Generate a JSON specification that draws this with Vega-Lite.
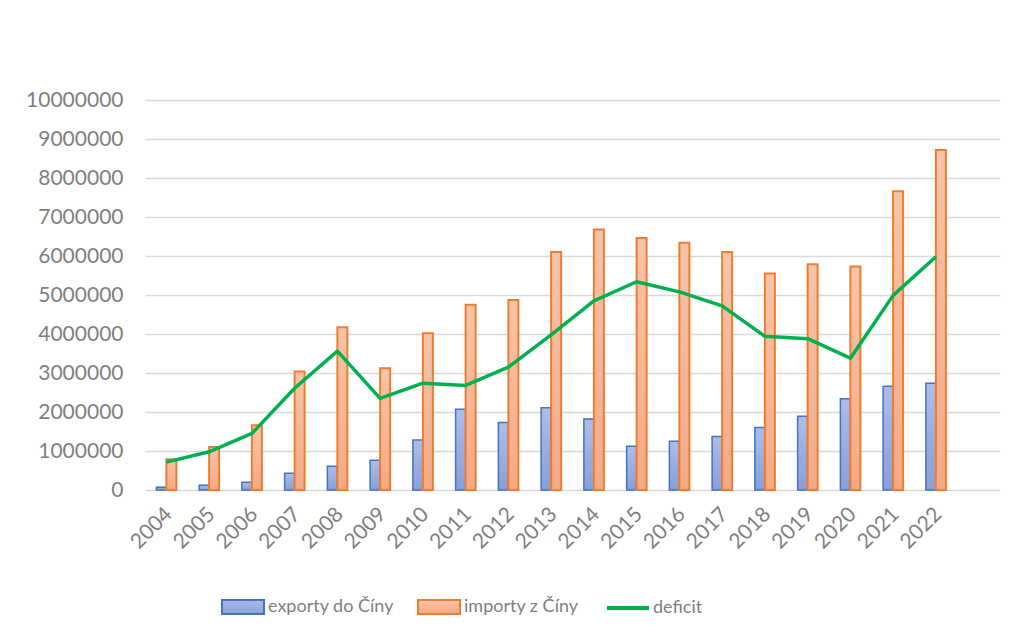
{
  "$schema": "https://vega.github.io/schema/vega-lite/v6.json",
  "width": 855,
  "height": 390,
  "autosize": {"type": "none"},
  "padding": {"left": 145, "top": 100, "right": 16, "bottom": 154},
  "background": "white",
  "config": {
    "font": "Lato",
    "view": {"stroke": null},
    "axis": {"labelFont": "Lato", "labelColor": "#7F7F7F", "labelFontSize": 21, "domain": false, "ticks": false, "title": null, "labelOverlap": false},
    "axisY": {"values": [0,1000000,2000000,3000000,4000000,5000000,6000000,7000000,8000000,9000000,10000000], "format": "d", "labelPadding": 22, "gridColor": "#D9D9D9", "gridWidth": 1.5}
  },
  "data": {
    "values": [
      {"rok": "2004", "export": 70000, "import": 790000, "deficit": 715000},
      {"rok": "2005", "export": 120000, "import": 1100000, "deficit": 980000},
      {"rok": "2006", "export": 200000, "import": 1660000, "deficit": 1450000},
      {"rok": "2007", "export": 430000, "import": 3040000, "deficit": 2610000},
      {"rok": "2008", "export": 610000, "import": 4170000, "deficit": 3560000},
      {"rok": "2009", "export": 760000, "import": 3120000, "deficit": 2350000},
      {"rok": "2010", "export": 1280000, "import": 4020000, "deficit": 2740000},
      {"rok": "2011", "export": 2070000, "import": 4750000, "deficit": 2680000},
      {"rok": "2012", "export": 1730000, "import": 4870000, "deficit": 3150000},
      {"rok": "2013", "export": 2110000, "import": 6100000, "deficit": 3980000},
      {"rok": "2014", "export": 1820000, "import": 6680000, "deficit": 4850000},
      {"rok": "2015", "export": 1120000, "import": 6460000, "deficit": 5340000},
      {"rok": "2016", "export": 1250000, "import": 6340000, "deficit": 5080000},
      {"rok": "2017", "export": 1370000, "import": 6100000, "deficit": 4720000},
      {"rok": "2018", "export": 1600000, "import": 5550000, "deficit": 3940000},
      {"rok": "2019", "export": 1890000, "import": 5790000, "deficit": 3880000},
      {"rok": "2020", "export": 2340000, "import": 5730000, "deficit": 3380000},
      {"rok": "2021", "export": 2660000, "import": 7660000, "deficit": 4990000},
      {"rok": "2022", "export": 2740000, "import": 8720000, "deficit": 5980000}
    ]
  },
  "encoding": {
    "x": {
      "field": "rok",
      "type": "nominal",
      "scale": {
        "domain": ["2004","2005","2006","2007","2008","2009","2010","2011","2012","2013","2014","2015","2016","2017","2018","2019","2020","2021","2022"," "],
        "paddingInner": 0.532,
        "paddingOuter": 0.266
      },
      "axis": {"labelAngle": -45, "labelPadding": 13, "labelOffset": -5, "grid": false}
    }
  },
  "layer": [
    {
      "mark": {
        "type": "bar",
        "fill": {"gradient": "linear", "x1": 0, "y1": 0, "x2": 0, "y2": 1, "stops": [{"offset": 0, "color": "#AEBDE7"}, {"offset": 1, "color": "#8A9FD6"}]},
        "stroke": "#4472C4",
        "strokeWidth": 1.5
      },
      "encoding": {
        "xOffset": {"datum": "exporty do Číny", "scale": {"domain": ["exporty do Číny", "importy z Číny"], "paddingInner": 0, "paddingOuter": 0}},
        "y": {
          "field": "export",
          "type": "quantitative",
          "scale": {"domain": [0, 10000000]}
        }
      }
    },
    {
      "mark": {
        "type": "bar",
        "fill": {"gradient": "linear", "x1": 0, "y1": 0, "x2": 0, "y2": 1, "stops": [{"offset": 0, "color": "#F8C4A8"}, {"offset": 1, "color": "#F4A984"}]},
        "stroke": "#ED7D31",
        "strokeWidth": 2
      },
      "encoding": {
        "xOffset": {"datum": "importy z Číny"},
        "y": {"field": "import", "type": "quantitative"}
      }
    },
    {
      "mark": {"type": "line", "strokeWidth": 3.5, "strokeJoin": "round"},
      "encoding": {
        "y": {"field": "deficit", "type": "quantitative"},
        "color": {
          "datum": "deficit",
          "scale": {"domain": ["exporty do Číny", "importy z Číny", "deficit"], "range": ["#4472C4", "#ED7D31", "#00B050"]},
          "legend": {
            "title": null,
            "orient": "none",
            "direction": "horizontal",
            "legendX": 89,
            "legendY": 498,
            "labelFont": "Lato",
            "labelFontSize": 18,
            "labelColor": "#7F7F7F",
            "labelOffset": 16,
            "columnPadding": 20,
            "symbolSize": 1764,
            "symbolType": "stroke",
            "symbolStrokeWidth": 2,
            "encode": {
              "symbols": {
                "update": {
                  "shape": {"signal": "datum.value === 'deficit' ? 'stroke' : 'M-1,-0.33H1V0.33H-1Z'"},
                  "stroke": {"signal": "datum.value === 'deficit' ? '#00B050' : (datum.value === 'exporty do Číny' ? '#4472C4' : '#ED7D31')"},
                  "strokeOpacity": {"value": 1},
                  "fill": {"signal": "datum.value === 'deficit' ? 'transparent' : (datum.value === 'exporty do Číny' ? {gradient: 'linear', x1: 0, y1: 0, x2: 0, y2: 1, stops: [{offset: 0, color: '#AEBDE7'}, {offset: 1, color: '#8A9FD6'}]} : {gradient: 'linear', x1: 0, y1: 0, x2: 0, y2: 1, stops: [{offset: 0, color: '#F8C4A8'}, {offset: 1, color: '#F4A984'}]})"},
                  "strokeWidth": {"signal": "datum.value === 'deficit' ? 4 : 2"},
                  "opacity": {"value": 1}
                }
              }
            }
          }
        }
      }
    }
  ]
}
